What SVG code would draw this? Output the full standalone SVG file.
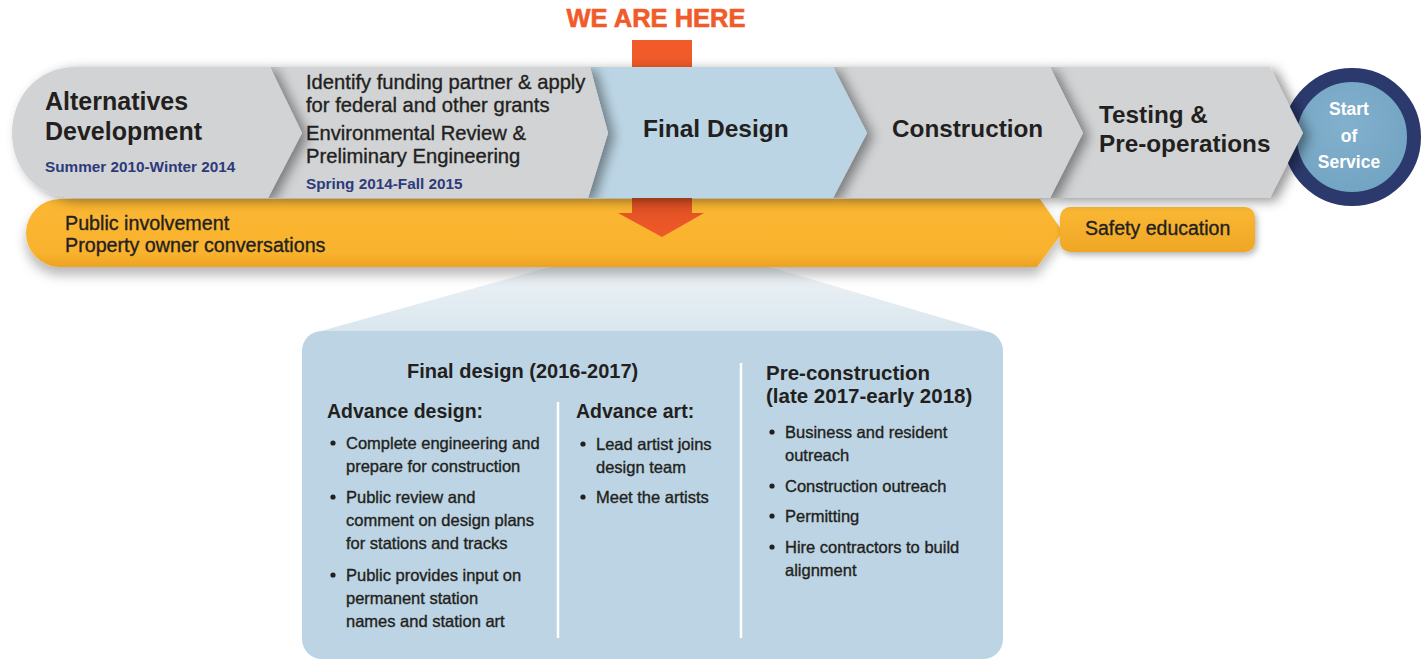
<svg xmlns="http://www.w3.org/2000/svg" width="1421" height="660" viewBox="0 0 1421 660">
  <defs>
    <style>
      .hd { font-family: "Liberation Sans", Arial, sans-serif; font-weight: bold; fill: #231f20; }
      .tx { font-family: "Liberation Sans", Arial, sans-serif; font-weight: normal; fill: #231f20; stroke: #231f20; stroke-width: 0.35px; }
      .date { font-family: "Liberation Sans", Arial, sans-serif; font-weight: bold; fill: #2e3a7b; font-size: 15.3px; }
      .big { font-size: 25px; }
      .stage { font-size: 24.3px; }
      .mid { font-size: 20.2px; }
      .band { font-size: 19.7px; }
      .bul { font-size: 16.5px; }
      .sub { font-size: 19.5px; }
      .seg-gray { fill: #d1d3d5; }
      .seg-blue { fill: #bcd5e4; }
      .dot { fill: #231f20; }
      .divider { stroke: #ffffff; stroke-width: 2.5; }
      .hub-label { font-family: "Liberation Sans", Arial, sans-serif; font-weight: bold; font-size: 17.5px; fill: #ffffff; }
    </style>
    <filter id="segShadow" x="-20%" y="-30%" width="150%" height="170%">
      <feDropShadow dx="6" dy="3" stdDeviation="6" flood-color="#000000" flood-opacity="0.42"/>
    </filter>
    <filter id="bandShadow" x="-5%" y="-30%" width="110%" height="180%">
      <feDropShadow dx="0" dy="8" stdDeviation="6" flood-color="#000000" flood-opacity="0.28"/>
    </filter>
    <filter id="softShadow" x="-10%" y="-30%" width="130%" height="170%">
      <feDropShadow dx="2" dy="3" stdDeviation="3" flood-color="#000000" flood-opacity="0.3"/>
    </filter>
    <linearGradient id="yellowFill" x1="0" y1="0" x2="0" y2="1">
      <stop offset="0" stop-color="#fbb732"/>
      <stop offset="0.8" stop-color="#f9b22d"/>
      <stop offset="1" stop-color="#eda223"/>
    </linearGradient>
    <linearGradient id="safetyFill" x1="0" y1="0" x2="0" y2="1">
      <stop offset="0" stop-color="#fbb833"/>
      <stop offset="1" stop-color="#efa626"/>
    </linearGradient>
    <linearGradient id="fanFill" x1="0" y1="0" x2="0" y2="1">
      <stop offset="0" stop-color="#eef3f7"/>
      <stop offset="1" stop-color="#d9e6ee"/>
    </linearGradient>
    <linearGradient id="arrowFill" x1="0" y1="0" x2="0" y2="1">
      <stop offset="0" stop-color="#d94c22"/>
      <stop offset="1" stop-color="#f15a29"/>
    </linearGradient>
    <radialGradient id="hubFill" cx="0.45" cy="0.4" r="0.6">
      <stop offset="0" stop-color="#82b1cd"/>
      <stop offset="1" stop-color="#72a3c2"/>
    </radialGradient>
  </defs>

  <rect width="1421" height="660" fill="#ffffff"/>

  <!-- expanded detail of the current phase -->
  <g id="node-detail">
    <polygon points="550,267 770,267 986,331 321,331" fill="url(#fanFill)"/>
    <rect x="302" y="331" width="701" height="328" rx="20" fill="#bcd4e3"/>
    <line class="divider" x1="558" y1="402" x2="558" y2="638"/>
    <line class="divider" x1="741" y1="363" x2="741" y2="638"/>

    <text class="hd" x="407" y="378" font-size="20px">Final design (2016-2017)</text>

    <text class="hd sub" x="327" y="418">Advance design:</text>
    <circle class="dot" cx="333" cy="443" r="2.6"/>
    <text class="tx bul" x="346" y="449">Complete engineering and</text>
    <text class="tx bul" x="346" y="472">prepare for construction</text>
    <circle class="dot" cx="333" cy="497" r="2.6"/>
    <text class="tx bul" x="346" y="503">Public review and</text>
    <text class="tx bul" x="346" y="526">comment on design plans</text>
    <text class="tx bul" x="346" y="549">for stations and tracks</text>
    <circle class="dot" cx="333" cy="575" r="2.6"/>
    <text class="tx bul" x="346" y="581">Public provides input on</text>
    <text class="tx bul" x="346" y="604">permanent station</text>
    <text class="tx bul" x="346" y="627">names and station art</text>

    <text class="hd sub" x="576" y="418">Advance art:</text>
    <circle class="dot" cx="583" cy="444" r="2.6"/>
    <text class="tx bul" x="596" y="450">Lead artist joins</text>
    <text class="tx bul" x="596" y="473">design team</text>
    <circle class="dot" cx="583" cy="497" r="2.6"/>
    <text class="tx bul" x="596" y="503">Meet the artists</text>

    <text class="hd" x="766" y="380" font-size="20.5px">Pre-construction</text>
    <text class="hd" x="766" y="403" font-size="20.5px">(late 2017-early 2018)</text>
    <circle class="dot" cx="772" cy="432" r="2.6"/>
    <text class="tx bul" x="785" y="438">Business and resident</text>
    <text class="tx bul" x="785" y="461">outreach</text>
    <circle class="dot" cx="772" cy="486" r="2.6"/>
    <text class="tx bul" x="785" y="492">Construction outreach</text>
    <circle class="dot" cx="772" cy="516" r="2.6"/>
    <text class="tx bul" x="785" y="522">Permitting</text>
    <circle class="dot" cx="772" cy="547" r="2.6"/>
    <text class="tx bul" x="785" y="553">Hire contractors to build</text>
    <text class="tx bul" x="785" y="576">alignment</text>
  </g>

  <!-- ongoing outreach band -->
  <g id="node-public-involvement">
    <path d="M60,199 H1040 L1063,232 L1037,267 H60 A34,34 0 0 1 26,233 A34,34 0 0 1 60,199 Z" fill="url(#yellowFill)" filter="url(#bandShadow)"/>
    <text class="tx band" x="65" y="230">Public involvement</text>
    <text class="tx band" x="65" y="252">Property owner conversations</text>
  </g>

  <g id="node-safety-education">
    <rect x="1060" y="207" width="195" height="45" rx="10" fill="url(#safetyFill)" filter="url(#softShadow)"/>
    <text class="tx sub" x="1085" y="235">Safety education</text>
  </g>

  <g id="node-we-are-here">
    <text x="656" y="27" text-anchor="middle" font-family="'Liberation Sans', Arial, sans-serif" font-weight="bold" font-size="25.5px" fill="#f15a29" stroke="#f15a29" stroke-width="0.6">WE ARE HERE</text>
  </g>

  <!-- pointer running behind the phase band -->
  <g id="connectors">
    <rect x="632" y="40" width="60" height="30" fill="#f15a29"/>
    <path d="M632,190 H692 V213 H704 L662,237 L618,213 H632 Z" fill="url(#arrowFill)"/>
  </g>

  <!-- phase band, drawn right to left so each chevron casts onto the next -->
  <g id="node-start-service">
    <circle cx="1352" cy="137" r="62" fill="url(#hubFill)" stroke="#2b396c" stroke-width="14"/>
    <text class="hub-label" x="1349" y="115" text-anchor="middle">Start</text>
    <text class="hub-label" x="1349" y="142" text-anchor="middle">of</text>
    <text class="hub-label" x="1349" y="168" text-anchor="middle">Service</text>
  </g>

  <g id="node-testing">
    <path class="seg-gray" d="M1050,67 H1270 L1303,133 L1270,198 H1050 L1083,133 Z" filter="url(#segShadow)"/>
    <text class="hd stage" x="1099" y="123">Testing &amp;</text>
    <text class="hd stage" x="1099" y="152">Pre-operations</text>
  </g>

  <g id="node-construction">
    <path class="seg-gray" d="M833,67 H1050 L1083,133 L1050,198 H833 L867,133 Z" filter="url(#segShadow)"/>
    <text class="hd stage" x="892" y="137">Construction</text>
  </g>

  <g id="node-final-design">
    <path class="seg-blue" d="M590,67 H833 L867,133 L833,198 H588 L608,133 Z" filter="url(#segShadow)"/>
    <text class="hd" x="643" y="137" font-size="24.5px">Final Design</text>
  </g>

  <g id="node-environmental">
    <path class="seg-gray" d="M270,67 H590 L608,133 L588,198 H268 L302,133 Z" filter="url(#segShadow)"/>
    <text class="tx mid" x="306" y="89">Identify funding partner &amp; apply</text>
    <text class="tx mid" x="306" y="112">for federal and other grants</text>
    <text class="tx mid" x="306" y="140">Environmental Review &amp;</text>
    <text class="tx mid" x="306" y="163">Preliminary Engineering</text>
    <text class="date" x="306" y="189">Spring 2014-Fall 2015</text>
  </g>

  <g id="node-alternatives">
    <path class="seg-gray" d="M76,67 H270 L302,133 L268,198 H76 C36,198 12,168 12,133 C12,98 36,67 76,67 Z" filter="url(#segShadow)"/>
    <text class="hd big" x="45" y="110">Alternatives</text>
    <text class="hd big" x="45" y="140">Development</text>
    <text class="date" x="45" y="172">Summer 2010-Winter 2014</text>
  </g>
</svg>
